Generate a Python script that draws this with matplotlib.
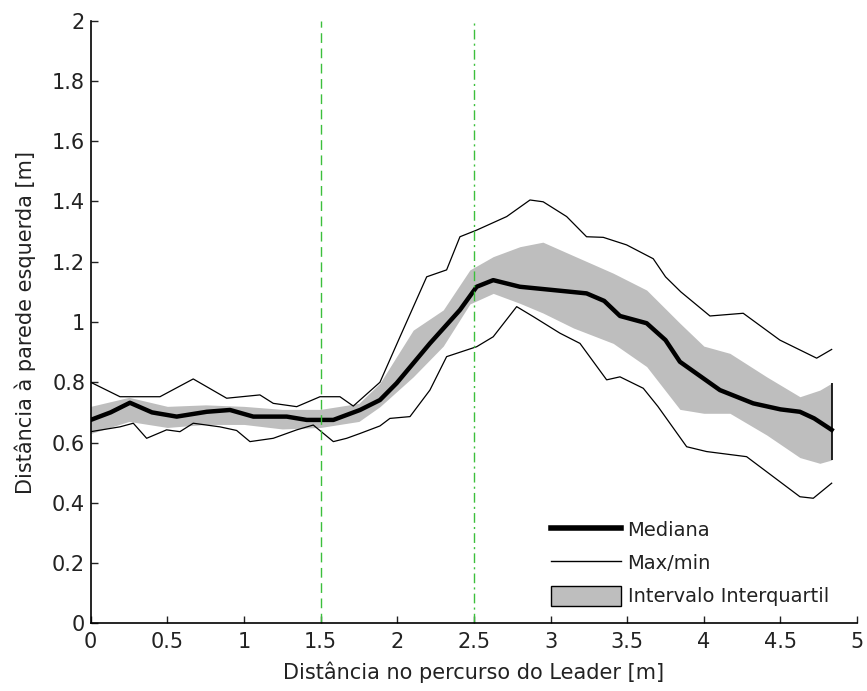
import matplotlib
matplotlib.use("Agg")
import matplotlib.pyplot as plt
from matplotlib.lines import Line2D
from matplotlib.patches import Patch

# Median curve
median_x = [0, 0.13, 0.256, 0.4, 0.561, 0.757, 0.909, 1.061, 1.279, 1.409, 1.583,
            1.757, 1.887, 1.996, 2.213, 2.409, 2.518, 2.626, 2.80, 3.018, 3.235,
            3.35, 3.453, 3.627, 3.75, 3.844, 4.105, 4.322, 4.5, 4.627, 4.72, 4.834]
median_y = [0.675, 0.70, 0.732, 0.70, 0.686, 0.702, 0.708, 0.686, 0.686, 0.675, 0.675,
            0.708, 0.741, 0.797, 0.929, 1.04, 1.117, 1.139, 1.117, 1.106, 1.095,
            1.07, 1.02, 0.996, 0.94, 0.868, 0.774, 0.730, 0.71, 0.702, 0.68, 0.642]

# Max curve
max_x = [0, 0.191, 0.452, 0.669, 0.887, 1.104, 1.191, 1.344, 1.496, 1.626, 1.713,
         1.887, 2.018, 2.192, 2.322, 2.409, 2.518, 2.714, 2.866, 2.952, 3.105,
         3.235, 3.344, 3.496, 3.67, 3.75, 3.85, 4.04, 4.257, 4.496, 4.736, 4.834]
max_y = [0.80, 0.752, 0.752, 0.811, 0.747, 0.758, 0.73, 0.719, 0.752, 0.752, 0.721,
         0.80, 0.951, 1.150, 1.173, 1.283, 1.305, 1.35, 1.405, 1.399, 1.35,
         1.283, 1.281, 1.256, 1.21, 1.15, 1.10, 1.02, 1.029, 0.940, 0.880, 0.909]

# Min curve
min_x = [0, 0.191, 0.278, 0.365, 0.495, 0.582, 0.669, 0.843, 0.952, 1.039, 1.191,
         1.344, 1.452, 1.583, 1.67, 1.757, 1.887, 1.952, 2.083, 2.213, 2.322,
         2.518, 2.626, 2.779, 2.887, 3.061, 3.192, 3.366, 3.453, 3.605, 3.70,
         3.888, 4.018, 4.279, 4.627, 4.714, 4.834]
min_y = [0.636, 0.652, 0.664, 0.614, 0.642, 0.636, 0.664, 0.652, 0.64, 0.603, 0.614,
         0.642, 0.658, 0.603, 0.614, 0.630, 0.655, 0.68, 0.686, 0.774, 0.885,
         0.918, 0.951, 1.051, 1.018, 0.963, 0.929, 0.808, 0.818, 0.780, 0.72,
         0.586, 0.57, 0.553, 0.42, 0.415, 0.465]

# Interquartile band
band_x = [0, 0.25, 0.5, 0.75, 1.0, 1.25, 1.5, 1.75, 1.887, 2.104, 2.3, 2.474, 2.626,
          2.8, 2.95, 3.15, 3.409, 3.627, 3.844, 4.0, 4.17, 4.41, 4.627, 4.757, 4.834]
q3 = [0.72, 0.75, 0.72, 0.725, 0.72, 0.71, 0.71, 0.73, 0.797, 0.973, 1.04, 1.173, 1.217,
      1.25, 1.265, 1.22, 1.162, 1.106, 0.996, 0.92, 0.896, 0.818, 0.752, 0.774, 0.797]
q1 = [0.63, 0.67, 0.65, 0.66, 0.66, 0.645, 0.65, 0.67, 0.719, 0.818, 0.92, 1.06, 1.095,
      1.062, 1.03, 0.98, 0.929, 0.852, 0.71, 0.697, 0.697, 0.625, 0.55, 0.531, 0.542]

xticks = [0, 0.5, 1, 1.5, 2, 2.5, 3, 3.5, 4, 4.5, 5]
xtick_labels = ['0', '0.5', '1', '1.5', '2', '2.5', '3', '3.5', '4', '4.5', '5']
yticks = [0, 0.2, 0.4, 0.6, 0.8, 1, 1.2, 1.4, 1.6, 1.8, 2]
ytick_labels = ['0', '0.2', '0.4', '0.6', '0.8', '1', '1.2', '1.4', '1.6', '1.8', '2']

plt.rcParams['font.family'] = ['DejaVu Sans']

fig = plt.figure(figsize=(8.67, 6.91), dpi=100)
ax = fig.add_axes([0.1046, 0.098, 0.884, 0.872])

ax.fill_between(band_x, q1, q3, color='#bebebe', linewidth=0)
ax.vlines(band_x[-1], q1[-1], q3[-1], color='black', linewidth=1.2)
ax.plot(max_x, max_y, color='black', linewidth=0.9)
ax.plot(min_x, min_y, color='black', linewidth=0.9)
ax.plot(median_x, median_y, color='black', linewidth=3.2)

ax.axvline(1.5, color='#3cbf3c', linestyle=(0, (7, 4)), linewidth=1)
ax.axvline(2.5, color='#3cbf3c', linestyle=(0, (7, 3, 1.5, 3)), linewidth=1)

ax.set_xlim(0, 5)
ax.set_ylim(0, 2)
ax.set_xticks(xticks)
ax.set_xticklabels(xtick_labels)
ax.set_yticks(yticks)
ax.set_yticklabels(ytick_labels)
ax.tick_params(direction='in', length=5, width=1, colors='#222222',
               labelcolor='#222222', labelsize=15)
ax.tick_params(axis='x', pad=6)
ax.tick_params(axis='y', pad=4)
ax.spines['top'].set_visible(False)
ax.spines['right'].set_visible(False)
ax.spines['left'].set_linewidth(1.2)
ax.spines['bottom'].set_linewidth(1.2)

ax.set_xlabel('Distância no percurso do Leader [m]', fontsize=15, color='#222222')
ax.set_ylabel('Distância à parede esquerda [m]', fontsize=15, color='#222222')
ax.xaxis.set_label_coords(0.5, -0.064)
ax.yaxis.set_label_coords(-0.071, 0.5)

handles = [Line2D([], [], color='black', linewidth=4),
           Line2D([], [], color='black', linewidth=1),
           Patch(facecolor='#bebebe', edgecolor='black', linewidth=1)]
labels = ['Mediana', 'Max/min', 'Intervalo Interquartil']
leg = ax.legend(handles, labels, loc='lower right', bbox_to_anchor=(0.963, 0.028),
                frameon=False, fontsize=14, handlelength=3.6, handleheight=1.25,
                handletextpad=0.35, labelspacing=0.63, borderpad=0, borderaxespad=0)
for t in leg.get_texts():
    t.set_color('#222222')

fig.savefig('out.png', dpi=100)
